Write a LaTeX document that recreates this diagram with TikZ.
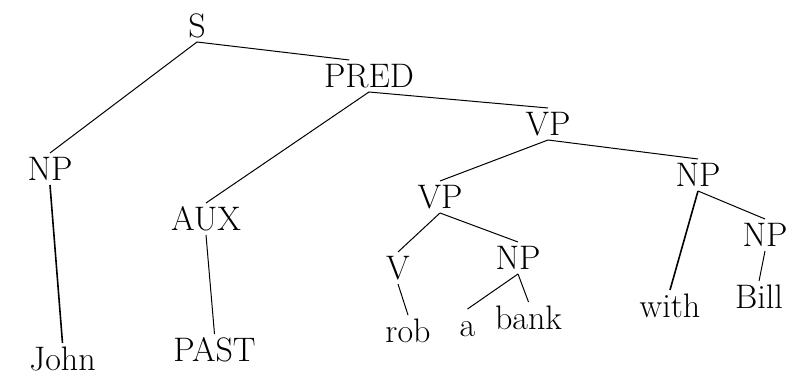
\documentclass[tikz,border=0pt]{standalone}
\usepackage{fontspec}
\usepackage{tikz}
\usetikzlibrary{positioning}
\newcommand{\treefont}{\fontsize{17}{20}\selectfont\addfontfeature{LetterSpace=6}}
\tikzset{%
	cat/.style={inner sep=2pt, text height=11.6pt, text depth=0pt, font=\treefont},
	word/.style={cat},
	branch/.style={line width=0.5pt},
	heavy/.style={line width=0.8pt}
}
\begin{document}
\begin{tikzpicture}[on grid]
	\useasboundingbox (-98.5pt,-176.5pt) rectangle (302.5pt,13pt);
	\node[cat] (s) at (0,0) {S};
	\node[cat] (s-l) [below left=71.5pt and 73.5pt of s] {NP};
	\node[word] (s-l-l) [below right=95pt and 6.25pt of s-l] {John};
	\node[cat] (s-r) [below right=25pt and 86pt of s] {PRED};
	\node[cat] (s-r-l) [below left=71.5pt and 81.5pt of s-r] {AUX};
	\node[word] (s-r-l-l) [below right=65.5pt and 4.25pt of s-r-l] {PAST};
	\node[cat] (s-r-r) [below right=24pt and 89.5pt of s-r] {VP};
	\node[cat] (s-r-r-l) [below left=36.5pt and 54pt of s-r-r] {VP};
	\node[cat] (s-r-r-l-l) [below left=35.5pt and 21pt of s-r-r-l] {V};
	\node[word] (s-r-r-l-l-l) [below right=31.5pt and 5pt of s-r-r-l-l] {rob};
	\node[cat] (s-r-r-l-r) [below right=30.5pt and 39pt of s-r-r-l] {NP};
	\node[word] (s-r-r-l-r-l) [below left=33.5pt and 25.25pt of s-r-r-l-r] {a};
	\node[word] (s-r-r-l-r-r) [below right=30pt and 5.25pt of s-r-r-l-r] {bank};
	\node[cat] (s-r-r-r) [below right=25.5pt and 75pt of s-r-r] {NP};
	\node[word] (s-r-r-r-l) [below left=65.5pt and 14pt of s-r-r-r] {with};
	\node[cat] (s-r-r-r-r) [below right=30pt and 33.5pt of s-r-r-r] {NP};
	\node[word] (s-r-r-r-r-l) [below left=31pt and 3pt of s-r-r-r-r] {Bill};

	\draw [branch] (s.south) to (s-l.north);
	\draw [branch] (s.south) to (s-r.141);
	\draw [heavy] (s-l.south) to (s-l-l.north);
	\draw [branch] (s-r.south) to (s-r-l.north);
	\draw [branch] (s-r-l.south) to (s-r-l-l.north);
	\draw [branch] (s-r.south) to (s-r-r.north);
	\draw [branch] (s-r-r.south) to (s-r-r-l.north);
	\draw [branch] (s-r-r-l.south) to (s-r-r-l-l.north);
	\draw [branch] (s-r-r-l-l.south) to (s-r-r-l-l-l.north);
	\draw [branch] (s-r-r-l.south) to (s-r-r-l-r.north);
	\draw [branch] (s-r-r-l-r.south) to (s-r-r-l-r-l.north);
	\draw [branch] (s-r-r-l-r.south) to (s-r-r-l-r-r.north);
	\draw [branch] (s-r-r.south) to (s-r-r-r.north);
	\draw [heavy] (s-r-r-r.south) to (s-r-r-r-l.north);
	\draw [branch] (s-r-r-r.south) to (s-r-r-r-r.north);
	\draw [branch] (s-r-r-r-r.south) to (s-r-r-r-r-l.north);
\end{tikzpicture}
\end{document}
